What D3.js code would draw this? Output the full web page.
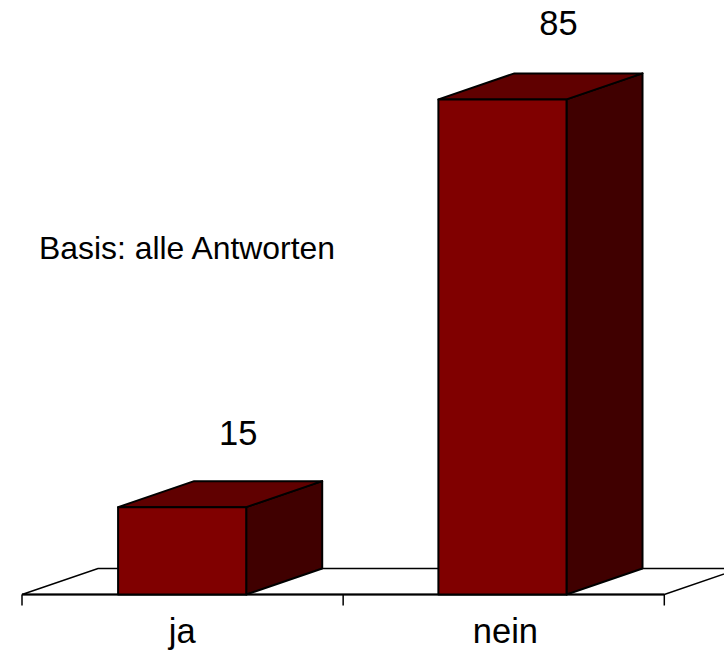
<!DOCTYPE html>
<html>
<head>
<meta charset="utf-8">
<script src="https://cdn.jsdelivr.net/npm/d3@7"></script>
<style>
  html, body { margin: 0; padding: 0; background: #fff; }
  svg { display: block; }
  text { font-family: "Liberation Sans", Arial, sans-serif; fill: #000; }
</style>
</head>
<body>
<div id="chart"></div>
<script>
// values
var categories = ["ja", "nein"];
var values = [15, 85];
var note = "Basis: alle Antworten";

var totwidth = 724,
    totheight = 650,
    margin = {left: 22, right: 61.4, top: 12, bottom: 55.5},
    floorRight = 664.3,
    depth = {x: 76, y: -26},   // offset of the 3d back face
    noteSize = 31.9,
    labelSize = 34.5;

var svg = d3.select("#chart").append("svg")
    .attr("width", totwidth)
    .attr("height", totheight);

var xScale = d3.scaleBand()
    .domain(categories)
    .range([margin.left, totwidth - margin.right])
    .paddingInner(0.6)
    .paddingOuter(0.3);

var yScale = d3.scaleLinear()
    .domain([0, 100])
    .range([totheight - margin.bottom, margin.top]);

// ticks sit on the band edges of the floor
var tickScale = d3.scaleLinear()
    .domain([0, categories.length])
    .range([margin.left, floorRight]);

var y0 = yScale(0),
    x0 = margin.left,
    x1 = floorRight;

var pts = function(a) { return a.map(function(p) { return p.join(","); }).join(" "); };

// floor
svg.append("polygon")
    .attr("points", pts([[x0, y0], [x0 + depth.x, y0 + depth.y], [x1 + depth.x, y0 + depth.y], [x1, y0]]))
    .attr("fill", "#fff")
    .attr("stroke", "#000")
    .attr("stroke-width", 1.5);

svg.append("line")
    .attr("x1", x0).attr("x2", x1)
    .attr("y1", y0).attr("y2", y0)
    .attr("stroke", "#000")
    .attr("stroke-width", 2);

svg.selectAll(".tick-mark")
    .data(d3.range(categories.length + 1))
    .enter().append("line")
    .attr("class", "tick-mark")
    .attr("x1", function(d) { return tickScale(d); })
    .attr("x2", function(d) { return tickScale(d); })
    .attr("y1", y0)
    .attr("y2", y0 + 11)
    .attr("stroke", "#000")
    .attr("stroke-width", 1.5);

var bars = svg.selectAll(".bar")
    .data(values)
    .enter().append("g")
    .attr("class", "bar");

var barX = function(i) { return xScale(categories[i]); };
var bw = xScale.bandwidth();

// right side
bars.append("polygon")
    .attr("fill", "#400000")
    .attr("points", function(d, i) {
      var x = barX(i) + bw, y = yScale(d);
      return pts([[x, y], [x + depth.x, y + depth.y], [x + depth.x, y0 + depth.y], [x, y0]]);
    });

// top
bars.append("polygon")
    .attr("fill", "#600000")
    .attr("points", function(d, i) {
      var x = barX(i), y = yScale(d);
      return pts([[x, y], [x + depth.x, y + depth.y], [x + bw + depth.x, y + depth.y], [x + bw, y]]);
    });

// front
bars.append("rect")
    .attr("fill", "#800000")
    .attr("x", function(d, i) { return barX(i); })
    .attr("y", function(d) { return yScale(d); })
    .attr("width", bw)
    .attr("height", function(d) { return y0 - yScale(d); });

bars.selectAll("polygon, rect")
    .attr("stroke", "#000")
    .attr("stroke-width", 2)
    .attr("stroke-linejoin", "round");

// value labels
svg.selectAll(".value")
    .data(values)
    .enter().append("text")
    .attr("class", "value")
    .attr("x", function(d, i) { return barX(i) + bw / 2 + 56; })
    .attr("y", function(d, i) { return yScale(d) - 62 - i * 2; })
    .attr("text-anchor", "middle")
    .attr("font-size", labelSize)
    .text(function(d) { return d; });

// category labels
svg.selectAll(".cat")
    .data(categories)
    .enter().append("text")
    .attr("class", "cat")
    .attr("x", function(d, i) { return xScale(d) + bw / 2 + i * 3; })
    .attr("y", 642.5)
    .attr("text-anchor", "middle")
    .attr("font-size", labelSize)
    .text(function(d) { return d; });

svg.append("text")
    .attr("x", 39)
    .attr("y", 259)
    .attr("font-size", noteSize)
    .text(note);
</script>
</body>
</html>
